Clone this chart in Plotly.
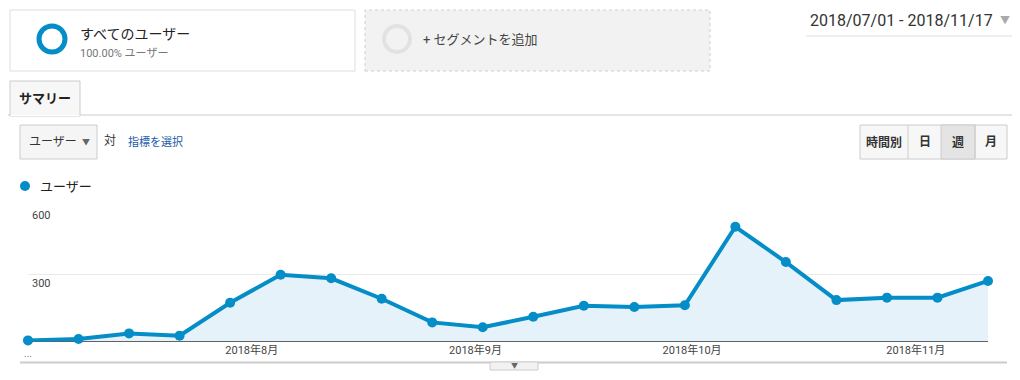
import plotly.graph_objects as go

# ---- data ----
weeks = ["2018-07-01", "2018-07-08", "2018-07-15", "2018-07-22", "2018-07-29",
         "2018-08-05", "2018-08-12", "2018-08-19", "2018-08-26", "2018-09-02",
         "2018-09-09", "2018-09-16", "2018-09-23", "2018-09-30", "2018-10-07",
         "2018-10-14", "2018-10-21", "2018-10-28", "2018-11-04", "2018-11-11"]
users = [5, 11, 36, 26, 172, 297, 281, 190, 85, 63,
         110, 159, 153, 161, 510, 353, 184, 195, 195, 269]
month_ticks = ["2018-08-01", "2018-09-01", "2018-10-01", "2018-11-01"]
month_labels = ["2018年8月", "2018年9月", "2018年10月", "2018年11月"]
y_ticks = [300, 600]
y_labels = ["300", "600"]

# page body has an 8px margin: the figure starts at (8, 8) in the window
OFF = 8
W, H = 1020 - OFF, 380 - OFF
BLUE = "#058dc7"
FONT = "Roboto, 'Noto Sans CJK JP', sans-serif"


def px(x):
    return (x - OFF) / W


def py(y):
    return 1 - (y - OFF) / H


fig = go.Figure()
fig.add_trace(go.Scatter(
    x=weeks, y=users, mode="lines+markers",
    line=dict(color=BLUE, width=4),
    marker=dict(color=BLUE, size=10),
    fill="tozeroy", fillcolor="#e6f2f9",
    cliponaxis=False, hoverinfo="skip", showlegend=False,
))

shapes = []
ann = []


def rect(x0, y0, x1, y1, line="#ddd", fill="white", dash="solid", width=1):
    shapes.append(dict(type="rect", xref="paper", yref="paper",
                       x0=px(x0), x1=px(x1), y0=py(y1), y1=py(y0),
                       line=dict(color=line, width=width, dash=dash),
                       fillcolor=fill, layer="below"))


def hline(x0, x1, y, color, width=1):
    shapes.append(dict(type="line", xref="paper", yref="paper",
                       x0=px(x0), x1=px(x1), y0=py(y), y1=py(y),
                       line=dict(color=color, width=width), layer="below"))


def circle(cx, cy, r, color, width=0, fill=None):
    shapes.append(dict(type="circle", xref="paper", yref="paper",
                       x0=px(cx - r), x1=px(cx + r), y0=py(cy + r), y1=py(cy - r),
                       line=dict(color=color, width=width),
                       fillcolor=fill if fill else "rgba(0,0,0,0)", layer="above"))


def text(x, y, s, size=12, color="#333", anchor="left", bold=False):
    ann.append(dict(xref="paper", yref="paper", x=px(x), y=py(y),
                    text=("<b>%s</b>" % s) if bold else s,
                    showarrow=False, xanchor=anchor, yanchor="middle",
                    font=dict(size=size, color=color, family=FONT)))


# segment boxes
rect(10, 10, 355, 71, line="#dedede", fill="white")
circle(52, 39, 13, BLUE, width=5)
text(78, 34, "すべてのユーザー", 14, "#222")
text(78, 53, "100.00% ユーザー", 11, "#777")

rect(365, 10, 710, 71, line="#cfcfcf", fill="#f2f2f2", dash="dot")
circle(397, 39, 13, "#e2e2e2", width=4)
text(421, 39, "+ セグメントを追加", 13, "#444")

# date range
text(808, 21, "2018/07/01 - 2018/11/17", 16, "#333")
text(1005, 21, "▼", 10, "#aaa", anchor="center")
hline(806, 1015, 36, "#eeeeee", 2)

# tab
hline(8, 1020, 115, "#cccccc", 1)
rect(10, 81, 80, 116, line="#cccccc", fill="#f7f7f7")
hline(10.5, 79.5, 115.5, "#ffffff", 1)
text(45, 98, "サマリー", 13, "#222", anchor="center", bold=True)

# metric dropdown
rect(20, 125, 97, 159, line="#cccccc", fill="#f5f5f5")
text(27, 142, "ユーザー", 12, "#333")
text(86, 142, "▼", 8, "#666", anchor="center")
text(102, 141, "対", 12, "#333")
text(126, 142, "指標を選択", 11, "#1a5aa8")

# period buttons
rect(860, 125, 1007, 159, line="#cccccc", fill="#f7f7f7")
rect(941, 125, 975, 159, line="#cccccc", fill="#e4e4e4")
for xv in (908, 975):
    shapes.append(dict(type="line", xref="paper", yref="paper",
                       x0=px(xv), x1=px(xv), y0=py(159), y1=py(125),
                       line=dict(color="#cccccc", width=1), layer="below"))
text(884, 142, "時間別", 12, "#333", anchor="center", bold=True)
text(925, 142, "日", 12, "#333", anchor="center", bold=True)
text(958, 142, "週", 12, "#333", anchor="center", bold=True)
text(991, 142, "月", 12, "#333", anchor="center", bold=True)

# legend
circle(25, 186, 5, BLUE, width=0, fill=BLUE)
text(38, 186, "ユーザー", 13, "#222")

# y labels inside plot
for v, lab in zip(y_ticks, y_labels):
    ann.append(dict(xref="paper", yref="y", x=px(30), y=v, yshift=-9, text=lab,
                    showarrow=False, xanchor="left", yanchor="middle",
                    font=dict(size=11, color="#444", family=FONT)))
text(28, 353, "...", 10, "#777", anchor="center")

# bottom line and expander tab
hline(20, 1007, 362.5, "#cccccc", 2)
rect(490, 362, 538, 370, line="#cccccc", fill="#f2f2f2")
text(514, 366, "▼", 7, "#666", anchor="center")

fig.update_layout(
    width=W, height=H, margin=dict(l=0, r=0, t=0, b=0),
    paper_bgcolor="white", plot_bgcolor="white",
    shapes=shapes, annotations=ann,
    font=dict(family=FONT),
    xaxis=dict(domain=[px(28), px(988)], type="date",
               range=[weeks[0], weeks[-1]],
               tickvals=month_ticks, ticktext=month_labels,
               showgrid=False, zeroline=False, showline=False, ticks="",
               tickfont=dict(size=11, color="#444", family=FONT),
               fixedrange=True),
    yaxis=dict(domain=[py(341.5), py(206.5)], range=[0, 600],
               tickvals=y_ticks, showticklabels=False,
               showgrid=True, gridcolor="#ebebeb", gridwidth=1,
               zeroline=True, zerolinecolor="#333333", zerolinewidth=1,
               fixedrange=True),
)

fig.write_html("out.html")
